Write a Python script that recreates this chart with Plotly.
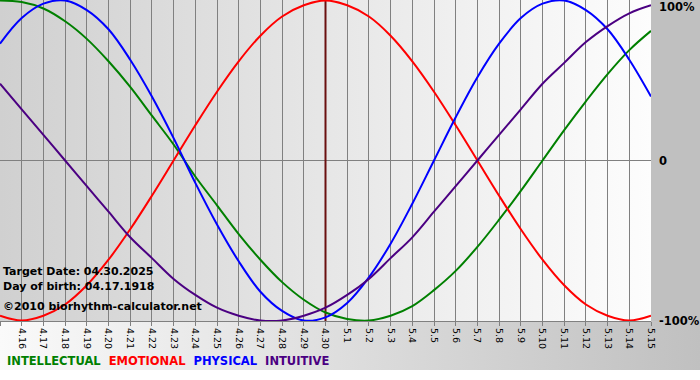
import base64
import plotly.graph_objects as go

# ---- data ----
tick_labels = ["4.15", "4.16", "4.17", "4.18", "4.19", "4.20", "4.21", "4.22", "4.23", "4.24",
               "4.25", "4.26", "4.27", "4.28", "4.29", "4.30", "5.1", "5.2", "5.3", "5.4",
               "5.5", "5.6", "5.7", "5.8", "5.9", "5.10", "5.11", "5.12", "5.13", "5.14", "5.15"]
days = list(range(len(tick_labels)))

intellectual = [1.00, 0.99, 0.95, 0.87, 0.76, 0.62, 0.46, 0.28, 0.10, -0.10, -0.28, -0.46, -0.62,
                -0.76, -0.87, -0.95, -0.99, -1.00, -0.97, -0.91, -0.81, -0.69, -0.54, -0.37,
                -0.19, 0.00, 0.19, 0.37, 0.54, 0.69, 0.81]
emotional = [-0.97, -1.00, -0.97, -0.90, -0.78, -0.62, -0.43, -0.22, 0.00, 0.22, 0.43, 0.62, 0.78,
             0.90, 0.97, 1.00, 0.97, 0.90, 0.78, 0.62, 0.43, 0.22, 0.00, -0.22, -0.43, -0.62,
             -0.78, -0.90, -0.97, -1.00, -0.97]
physical = [0.73, 0.89, 0.98, 1.00, 0.94, 0.82, 0.63, 0.40, 0.14, -0.14, -0.40, -0.63, -0.82, -0.94,
            -1.00, -0.98, -0.89, -0.73, -0.52, -0.27, 0.00, 0.27, 0.52, 0.73, 0.89, 0.98, 1.00,
            0.94, 0.82, 0.63, 0.40]
intuitive = [0.48, 0.32, 0.16, 0.00, -0.16, -0.32, -0.48, -0.61, -0.74, -0.84, -0.92, -0.97, -1.00,
             -1.00, -0.97, -0.92, -0.84, -0.74, -0.61, -0.48, -0.32, -0.16, 0.00, 0.16, 0.32, 0.48,
             0.61, 0.74, 0.84, 0.92, 0.97]

target_index = 15  # 4.30
series_names = ["INTELLECTUAL", "EMOTIONAL", "PHYSICAL", "INTUITIVE"]
series_colors = ["#008000", "#ff0000", "#0000ff", "#4b0082"]
y_labels = ["100%", "0", "-100%"]
y_label_vals = [1, 0, -1]
info_lines = ["Target Date: 04.30.2025", "Day of birth: 04.17.1918", "\u00a92010 biorhythm-calculator.net"]

W, H = 700, 380
PL, PR, PT, PB = 0, 49, 0, 59
plot_w = W - PL - PR
plot_h = H - PT - PB
Y_RANGE = [-1.003, 1.003]


def grad_uri(c0, c1):
    svg = ('<svg xmlns="http://www.w3.org/2000/svg" width="100" height="10" viewBox="0 0 100 10" '
           'preserveAspectRatio="none"><defs><linearGradient id="g" x1="0" x2="1" y1="0" y2="0">'
           f'<stop offset="0" stop-color="{c0}"/><stop offset="1" stop-color="{c1}"/>'
           '</linearGradient></defs><rect width="100" height="10" fill="url(#g)"/></svg>')
    return "data:image/svg+xml;base64," + base64.b64encode(svg.encode()).decode()


fig = go.Figure()
# target-date marker line
fig.add_trace(go.Scatter(x=[days[target_index], days[target_index]], y=Y_RANGE, mode="lines",
                         line=dict(color="#6a1010", width=2), hoverinfo="skip", showlegend=False,
                         cliponaxis=True))
for name, vals, col in zip(series_names, [intellectual, emotional, physical, intuitive], series_colors):
    fig.add_trace(go.Scatter(x=days, y=vals, mode="lines", name=name,
                             line=dict(color=col, width=2, shape="spline", smoothing=1.0),
                             hoverinfo="skip", showlegend=False))

bottom_frac = (370 - (PT + plot_h)) / plot_h
right_frac = W / plot_w

fig.update_layout(
    width=W, height=H,
    margin=dict(l=PL, r=PR, t=PT, b=PB),
    paper_bgcolor="#ffffff",
    plot_bgcolor="rgba(0,0,0,0)",
    showlegend=False,
    images=[
        dict(source=grad_uri("#d0d0d0", "#fdfdfd"), xref="paper", yref="paper",
             x=0, y=1, sizex=1, sizey=1, sizing="stretch", xanchor="left", yanchor="top",
             layer="below"),
        dict(source=grad_uri("#fafafa", "#c0c0c0"), xref="paper", yref="paper",
             x=0, y=0, sizex=right_frac, sizey=bottom_frac, sizing="stretch",
             xanchor="left", yanchor="top", layer="below"),
    ],
    shapes=[
        dict(type="rect", xref="paper", yref="paper", x0=1, x1=right_frac, y0=0, y1=1,
             fillcolor="#c0c0c0", line=dict(width=0), layer="below"),
    ],
    xaxis=dict(range=[days[0], days[-1]], tickvals=days, ticktext=tick_labels,
               showgrid=True, gridcolor="#808080", gridwidth=1,
               showline=True, linecolor="#808080", linewidth=1,
               ticks="outside", ticklen=4, tickcolor="#808080", tickangle=90,
               tickfont=dict(family="DejaVu Sans", size=9.5, color="#000000"),
               zeroline=False, fixedrange=True),
    yaxis=dict(range=Y_RANGE, showgrid=False, showticklabels=False,
               zeroline=True, zerolinecolor="#808080", zerolinewidth=1, fixedrange=True),
)

annotations = []
for lab, v, shift in zip(y_labels, y_label_vals, [7, 0, 0]):
    annotations.append(dict(text=f"<b>{lab}</b>", xref="paper", yref="y", x=1, y=v,
                            xanchor="left", yanchor="middle", xshift=6, yshift=-shift,
                            showarrow=False,
                            font=dict(family="DejaVu Sans", size=11.5, color="#000000")))
for txt, py in zip(info_lines, [271, 286, 306]):
    annotations.append(dict(text=f"<b>{txt}</b>", xref="paper", yref="paper",
                            x=1 / plot_w, y=(plot_h - py) / plot_h,
                            xanchor="left", yanchor="middle", showarrow=False,
                            font=dict(family="DejaVu Sans", size=11, color="#000000")))
legend_html = "  ".join(f'<span style="color:{c}">{n}</span>' for n, c in zip(series_names, series_colors))
annotations.append(dict(text=f"<b>{legend_html}</b>", xref="paper", yref="paper",
                        x=5 / plot_w, y=(plot_h - 361) / plot_h,
                        xanchor="left", yanchor="middle", showarrow=False,
                        font=dict(family="DejaVu Sans", size=11.5, color="#000000")))
fig.update_layout(annotations=annotations)

fig.write_html("out.html", config={"displayModeBar": False},
               post_script="document.body.style.margin='0';")
